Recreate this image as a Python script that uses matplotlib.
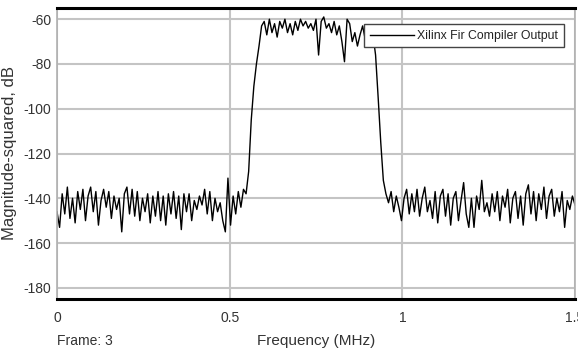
import numpy as np
import matplotlib
matplotlib.use("Agg")
import matplotlib.pyplot as plt

# frequency grid (MHz), one sample every 0.0075 MHz
freq_step = 0.0075
# magnitude-squared in dB
mag_db = [
    -146, -153, -138, -147, -135, -149, -140, -151, -137, -145,
    -136, -150, -139, -135, -146, -137, -152, -141, -136, -144,
    -137, -149, -139, -145, -140, -155, -138, -135, -147, -136,
    -148, -137, -150, -140, -146, -138, -151, -139, -148, -137,
    -150, -139, -152, -138, -147, -137, -149, -139, -154, -138,
    -146, -138, -150, -141, -145, -139, -143, -136, -147, -137,
    -150, -140, -146, -142, -150, -155, -131, -152, -139, -147,
    -137, -144, -136, -138, -128, -105, -90, -80, -72, -63,
    -61, -67, -60, -66, -62, -68, -61, -64, -60, -66,
    -62, -67, -61, -65, -60, -63, -61, -64, -62, -65,
    -60, -76, -61, -59, -64, -62, -66, -61, -67, -63,
    -70, -79, -60, -62, -70, -66, -72, -67, -63, -69,
    -65, -71, -67, -76, -95, -115, -132, -138, -142, -137,
    -146, -139, -144, -150, -140, -136, -147, -138, -146, -136,
    -148, -140, -135, -146, -141, -149, -137, -151, -139, -136,
    -148, -138, -152, -140, -137, -150, -141, -133, -147, -153,
    -140, -153, -139, -145, -132, -146, -142, -148, -138, -146,
    -137, -150, -139, -144, -136, -151, -140, -137, -149, -139,
    -152, -138, -134, -147, -137, -150, -138, -145, -135, -149,
    -139, -136, -148, -140, -146, -137, -153, -141, -145, -139,
    -143,
]
freq = np.arange(len(mag_db)) * freq_step

x_ticks = [0, 0.5, 1, 1.5]
x_tick_labels = ["0", "0.5", "1", "1.5"]
y_ticks = [-180, -160, -140, -120, -100, -80, -60]

plt.rcParams['font.family'] = ['Liberation Sans', 'DejaVu Sans']
plt.rcParams['axes.unicode_minus'] = False

fig = plt.figure(figsize=(5.78, 3.53), dpi=100)
ax = fig.add_axes([57 / 578, 1 - 299 / 353, (575 - 57) / 578, (299 - 8) / 353])

ax.plot(freq, mag_db, color="black", linewidth=1.0, label="Xilinx Fir Compiler Output")

ax.set_xlim(0, 1.5)
ax.set_ylim(-185, -55)
ax.set_xticks(x_ticks)
ax.set_xticklabels(x_tick_labels)
ax.set_yticks(y_ticks)
ax.grid(True, color="#c4c4c4", linewidth=1.5)
ax.set_axisbelow(True)
ax.tick_params(length=0, labelsize=10, colors="#333333", pad=4)
ax.tick_params(axis="x", pad=9)

for side in ["top", "bottom"]:
    ax.spines[side].set_color("black")
    ax.spines[side].set_linewidth(2.2)
for side in ["left", "right"]:
    ax.spines[side].set_color("#b0b0b0")
    ax.spines[side].set_linewidth(1.2)

ax.set_xlabel("Frequency (MHz)", fontsize=11, color="#333333", labelpad=6)
ax.set_ylabel("Magnitude-squared, dB", fontsize=12, color="#333333")
ax.yaxis.set_label_coords((17 - 57) / 518, 0.5)

fig.text(57 / 578, 1 - 341 / 353, "Frame: 3", fontsize=10, color="#333333",
         ha="left", va="center")

leg = ax.legend(loc="upper right", bbox_to_anchor=(0.99, 0.965), fontsize=8.8,
                fancybox=False, framealpha=1, edgecolor="#444444",
                handlelength=3.6, borderpad=0.45, handletextpad=0.3)
leg.get_frame().set_linewidth(1.0)
for t in leg.get_texts():
    t.set_color("#222222")

fig.savefig("out.png", dpi=100)
